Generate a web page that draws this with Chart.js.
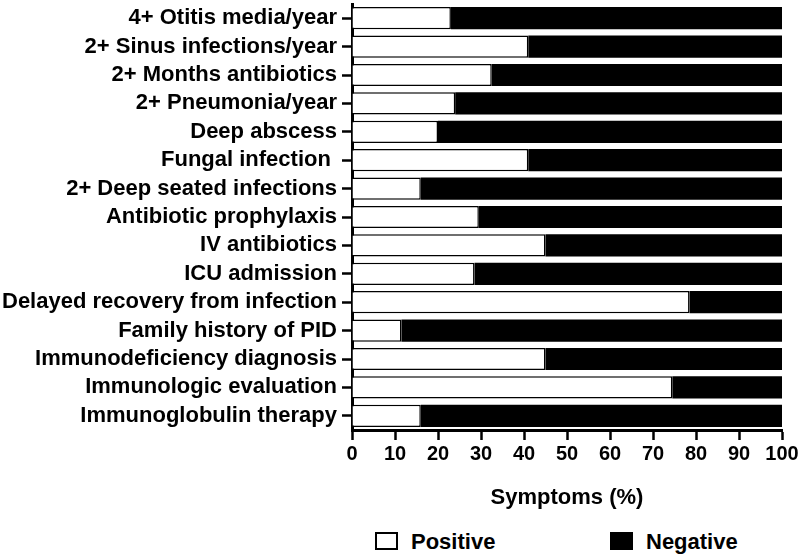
<!DOCTYPE html>
<html>
<head>
<meta charset="utf-8">
<script src="https://cdn.jsdelivr.net/npm/chart.js@4"></script>
<style>
  body { margin: 0; background: #fff; }
  #wrap { position: relative; width: 800px; height: 555px; }
  #chartBox { position: absolute; left: 0; top: 0; width: 800px; height: 520px; }
  .legend { position: absolute; top: 529px; font: bold 22px "Liberation Sans", Arial, sans-serif; color: #000; }
  .legend span.box { position: absolute; top: 3px; width: 23px; height: 18px; box-sizing: border-box; }
  .legend span.lbl { position: absolute; left: 36px; top: 0; white-space: nowrap; }
</style>
</head>
<body>
<div id="wrap">
  <div id="chartBox"><canvas id="chart"></canvas></div>
  <div class="legend" style="left:375px"><span class="box" style="background:#fff;border:2px solid #000"></span><span class="lbl">Positive</span></div>
  <div class="legend" style="left:610px"><span class="box" style="background:#000"></span><span class="lbl">Negative</span></div>
</div>
<script>
// --- DATA ---
const categories = [
    "4+ Otitis media/year",
    "2+ Sinus infections/year",
    "2+ Months antibiotics",
    "2+ Pneumonia/year",
    "Deep abscess",
    "Fungal infection ",
    "2+ Deep seated infections",
    "Antibiotic prophylaxis",
    "IV antibiotics",
    "ICU admission",
    "Delayed recovery from infection",
    "Family history of PID",
    "Immunodeficiency diagnosis",
    "Immunologic evaluation",
    "Immunoglobulin therapy"
];
const positive = [23, 41, 32.5, 24, 20, 41, 16, 29.5, 45, 28.5, 78.5, 11.5, 45, 74.5, 16];
const negative = [77, 59, 67.5, 76, 80, 59, 84, 70.5, 55, 71.5, 21.5, 88.5, 55, 25.5, 84];
const xTicks = [0, 10, 20, 30, 40, 50, 60, 70, 80, 90, 100];

const FONT = '"Liberation Sans", Arial, sans-serif';

// Chart Setup
const ctx = document.getElementById('chart').getContext('2d');

const chart = new Chart(ctx, {
    type: 'bar',
    data: {
        labels: categories,
        datasets: [{
            label: 'Positive',
            data: positive,
            backgroundColor: '#fff',
            borderColor: '#000',
            borderWidth: 1.5,
            barPercentage: 0.78,
            categoryPercentage: 1
        }, {
            label: 'Negative',
            data: negative,
            backgroundColor: '#000',
            borderColor: '#000',
            borderWidth: 0,
            barPercentage: 0.78,
            categoryPercentage: 1
        }]
    },
    options: {
        indexAxis: 'y',
        responsive: true,
        maintainAspectRatio: false,
        animation: false,
        layout: { padding: { top: 4, right: 18, left: 0, bottom: 0 } },
        plugins: {
            legend: { display: false },
            tooltip: { enabled: false }
        },
        scales: {
            x: {
                stacked: true,
                min: 0,
                max: 100,
                afterBuildTicks: s => { s.ticks = xTicks.map(v => ({ value: v })); },
                border: { display: true, color: '#000', width: 3 },
                grid: { display: true, drawOnChartArea: false, drawTicks: true, tickLength: 10, tickWidth: 2.5, tickColor: '#000' },
                ticks: { color: '#000', padding: 2, maxRotation: 0, autoSkip: false, font: { family: FONT, size: 20, weight: 'bold', lineHeight: 1.2 } },
                title: {
                    display: true,
                    text: 'Symptoms (%)',
                    color: '#000',
                    padding: { top: 0, bottom: 9 },
                    font: { family: FONT, size: 22, weight: 'bold', lineHeight: 1.2 }
                },
                afterFit: s => { s.height = 90; s.paddingLeft = 0; s.paddingRight = 0; }
            },
            y: {
                stacked: true,
                border: { display: true, color: '#000', width: 3 },
                grid: { display: true, offset: false, drawOnChartArea: false, drawTicks: true, tickLength: 10, tickWidth: 2.5, tickColor: '#000' },
                ticks: { color: '#000', padding: 5, autoSkip: false, font: { family: FONT, size: 22, weight: 'bold', lineHeight: 1 } },
                afterFit: s => { s.width = 352; s.paddingTop = 0; s.paddingBottom = 0; }
            }
        }
    }
});
</script>
</body>
</html>
